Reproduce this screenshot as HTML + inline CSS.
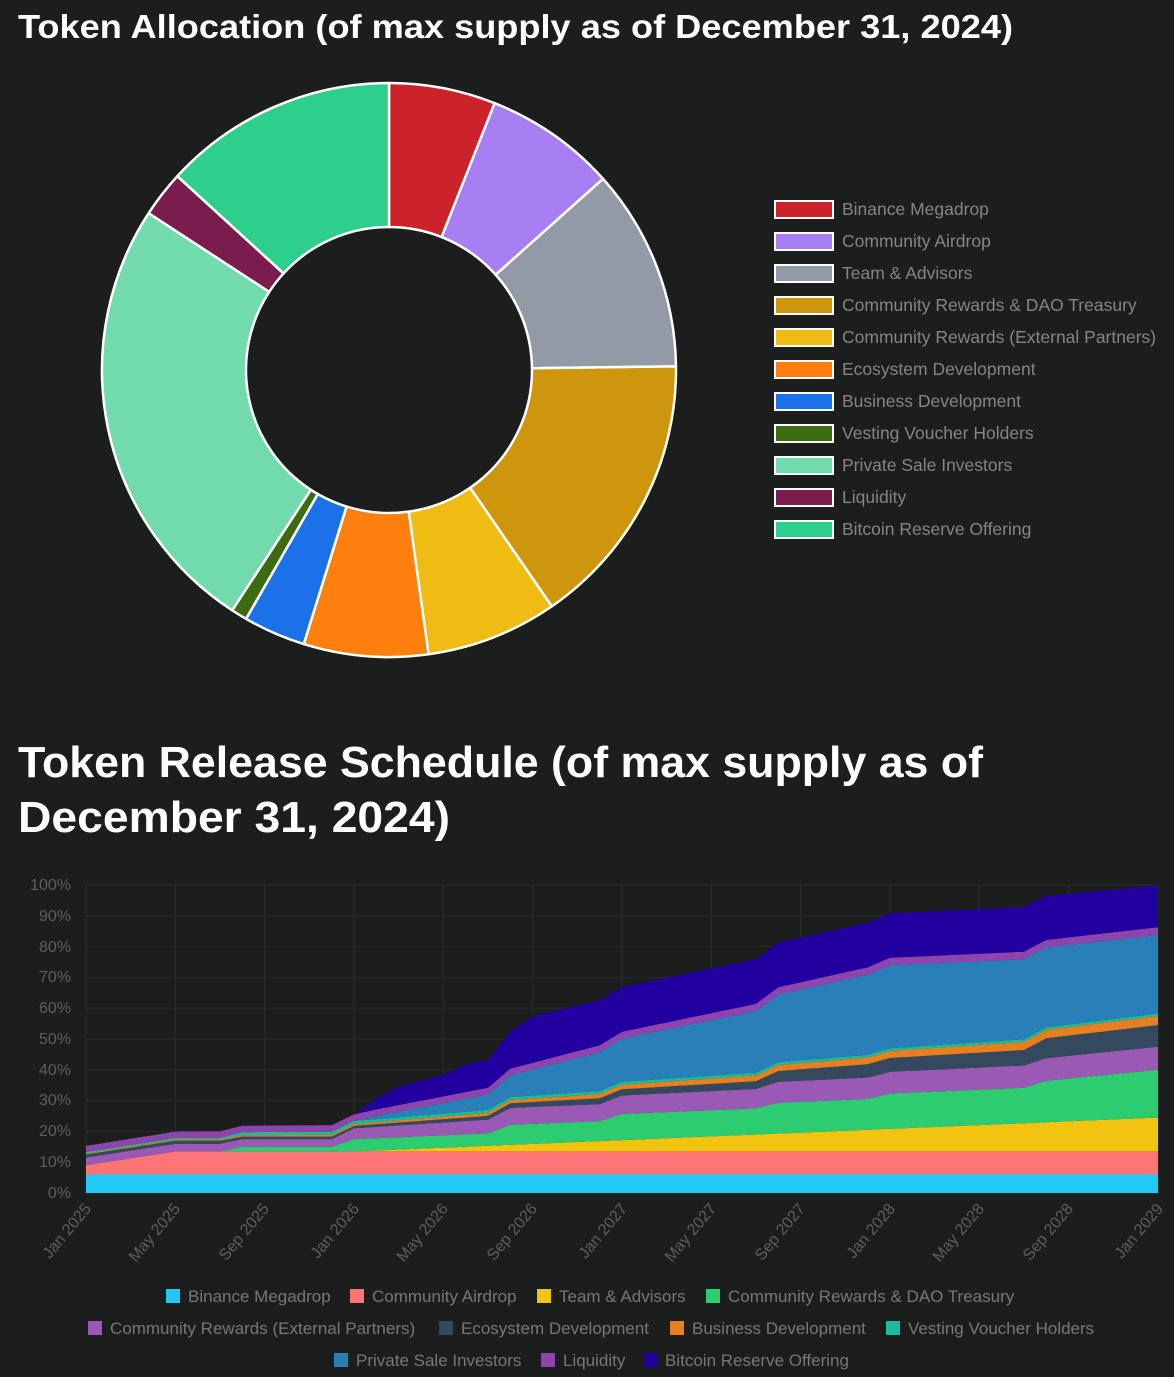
<!DOCTYPE html>
<html><head><meta charset="utf-8"><style>
html,body{margin:0;padding:0;background:#1c1d1d;width:1174px;height:1377px;overflow:hidden}
svg{display:block}
text{font-family:"Liberation Sans",Arial,sans-serif}
</style></head><body>
<svg id="s" width="1174" height="1377" viewBox="0 0 1174 1377">
<rect width="1174" height="1377" fill="#1c1d1d"/>
<text x="18" y="38" fill="#fff" font-size="33" font-weight="bold" textLength="995" lengthAdjust="spacingAndGlyphs">Token Allocation (of max supply as of December 31, 2024)</text>
<text x="18" y="777" fill="#fff" font-size="44" font-weight="bold" textLength="965" lengthAdjust="spacingAndGlyphs">Token Release Schedule (of max supply as of</text>
<text x="18" y="832" fill="#fff" font-size="44" font-weight="bold" textLength="432" lengthAdjust="spacingAndGlyphs">December 31, 2024)</text>
<g id="donut"></g>
<g id="leg1" font-size="17.5" fill="#858585">
<rect x="775" y="201" width="58" height="17" fill="#cc2229" stroke="#fff" stroke-width="2"/><text x="842" y="215">Binance Megadrop</text>
<rect x="775" y="233" width="58" height="17" fill="#a77ff2" stroke="#fff" stroke-width="2"/><text x="842" y="247">Community Airdrop</text>
<rect x="775" y="265" width="58" height="17" fill="#929aa5" stroke="#fff" stroke-width="2"/><text x="842" y="279">Team &amp; Advisors</text>
<rect x="775" y="297" width="58" height="17" fill="#cd960c" stroke="#fff" stroke-width="2"/><text x="842" y="311">Community Rewards &amp; DAO Treasury</text>
<rect x="775" y="329" width="58" height="17" fill="#f0bb12" stroke="#fff" stroke-width="2"/><text x="842" y="343">Community Rewards (External Partners)</text>
<rect x="775" y="361" width="58" height="17" fill="#fd800f" stroke="#fff" stroke-width="2"/><text x="842" y="375">Ecosystem Development</text>
<rect x="775" y="393" width="58" height="17" fill="#1b72e8" stroke="#fff" stroke-width="2"/><text x="842" y="407">Business Development</text>
<rect x="775" y="425" width="58" height="17" fill="#3d6b11" stroke="#fff" stroke-width="2"/><text x="842" y="439">Vesting Voucher Holders</text>
<rect x="775" y="457" width="58" height="17" fill="#72dbad" stroke="#fff" stroke-width="2"/><text x="842" y="471">Private Sale Investors</text>
<rect x="775" y="489" width="58" height="17" fill="#7a1d4e" stroke="#fff" stroke-width="2"/><text x="842" y="503">Liquidity</text>
<rect x="775" y="521" width="58" height="17" fill="#2ecf8d" stroke="#fff" stroke-width="2"/><text x="842" y="535">Bitcoin Reserve Offering</text>
</g>
<g id="grid" stroke="#2a2b2b" stroke-width="1"></g>
<g id="areas"></g>
<g font-size="16" fill="#5e5e5e" text-anchor="end">
<text x="71" y="890">100%</text><text x="71" y="921">90%</text><text x="71" y="952">80%</text><text x="71" y="982">70%</text><text x="71" y="1013">60%</text><text x="71" y="1044">50%</text><text x="71" y="1075">40%</text><text x="71" y="1105">30%</text><text x="71" y="1136">20%</text><text x="71" y="1167">10%</text><text x="71" y="1198">0%</text>
</g>
<g font-size="16" fill="#5e5e5e" text-anchor="end">
<text transform="translate(92,1209) rotate(-50)">Jan 2025</text>
<text transform="translate(181,1209) rotate(-50)">May 2025</text>
<text transform="translate(270,1209) rotate(-50)">Sep 2025</text>
<text transform="translate(360,1209) rotate(-50)">Jan 2026</text>
<text transform="translate(449,1209) rotate(-50)">May 2026</text>
<text transform="translate(538,1209) rotate(-50)">Sep 2026</text>
<text transform="translate(628,1209) rotate(-50)">Jan 2027</text>
<text transform="translate(717,1209) rotate(-50)">May 2027</text>
<text transform="translate(806,1209) rotate(-50)">Sep 2027</text>
<text transform="translate(896,1209) rotate(-50)">Jan 2028</text>
<text transform="translate(985,1209) rotate(-50)">May 2028</text>
<text transform="translate(1074,1209) rotate(-50)">Sep 2028</text>
<text transform="translate(1164,1209) rotate(-50)">Jan 2029</text>
</g>
<g font-size="17" fill="#777">
<rect x="166" y="1289" width="14" height="14" fill="#22c9f5"/><text x="188" y="1302">Binance Megadrop</text>
<rect x="350" y="1289" width="14" height="14" fill="#ff7474"/><text x="372" y="1302">Community Airdrop</text>
<rect x="537" y="1289" width="14" height="14" fill="#f1c40f"/><text x="559" y="1302">Team &amp; Advisors</text>
<rect x="706" y="1289" width="14" height="14" fill="#2ecc71"/><text x="728" y="1302">Community Rewards &amp; DAO Treasury</text>
<rect x="88" y="1321" width="14" height="14" fill="#9b59b6"/><text x="110" y="1334">Community Rewards (External Partners)</text>
<rect x="439" y="1321" width="14" height="14" fill="#34495e"/><text x="461" y="1334">Ecosystem Development</text>
<rect x="670" y="1321" width="14" height="14" fill="#e67e22"/><text x="692" y="1334">Business Development</text>
<rect x="886" y="1321" width="14" height="14" fill="#1abc9c"/><text x="908" y="1334">Vesting Voucher Holders</text>
<rect x="334" y="1353" width="14" height="14" fill="#2980b9"/><text x="356" y="1366">Private Sale Investors</text>
<rect x="541" y="1353" width="14" height="14" fill="#8e44ad"/><text x="563" y="1366">Liquidity</text>
<rect x="643" y="1353" width="14" height="14" fill="#2200a0"/><text x="665" y="1366">Bitcoin Reserve Offering</text>
</g>
</svg>
<script>
var NS="http://www.w3.org/2000/svg";
function el(t,a,p){var e=document.createElementNS(NS,t);for(var k in a)e.setAttribute(k,a[k]);p.appendChild(e);return e;}
var cx=389,cy=370,R=287,r=143;
var vals=[6,7.4,11.4,15.6,7.4,7,3.5,0.9,25,2.6,13.2];
var cols=["#cc2229","#a77ff2","#929aa5","#cd960c","#f0bb12","#fd800f","#1b72e8","#3d6b11","#72dbad","#7a1d4e","#2ecf8d"];
var tot=vals.reduce(function(a,b){return a+b},0),a0=0,dg=document.getElementById("donut");
vals.forEach(function(v,i){var a1=a0+v/tot*2*Math.PI;
function pt(rr,a){return [cx+rr*Math.sin(a),cy-rr*Math.cos(a)];}
var p1=pt(R,a0),p2=pt(R,a1),p3=pt(r,a1),p4=pt(r,a0),l=(a1-a0)>Math.PI?1:0;
el("path",{d:"M"+p1+"A"+R+","+R+" 0 "+l+" 1 "+p2+"L"+p3+"A"+r+","+r+" 0 "+l+" 0 "+p4+"Z",fill:cols[i],stroke:"#fff","stroke-width":2.5,"stroke-linejoin":"round"},dg);a0=a1;});
var X0=86,X1=1158,Y0=1193,Y1=885,g=document.getElementById("grid");
for(var i=0;i<=10;i++){var y=Y0+(Y1-Y0)*i/10;el("line",{x1:X0,x2:X1,y1:y,y2:y},g);}
for(var i=0;i<=12;i++){var x=X0+(X1-X0)*i/12;el("line",{x1:x,x2:x,y1:Y1,y2:Y0},g);}
var S=[
["#22c9f5",[[0,6],[48,6]]],
["#ff7474",[[0,3],[4,7.5],[48,7.5]]],
["#f1c40f",[[0,0],[12,0],[48,11]]],
["#2ecc71",[[0,0],[6,0],[7,1.5],[11,1.5],[12,4],[18,4],[19,6.5],[23,6.5],[24,8.5],[30,8.5],[31,10],[35,10],[36,11.5],[42,11.5],[43,13.5],[48,15.5]]],
["#9b59b6",[[0,2.5],[4,2.5],[6,2.5],[7,2.5],[11,2.5],[12,3.5],[18,4.5],[19,5.5],[23,5.5],[24,6],[30,6.3],[31,6.8],[48,7.5]]],
["#34495e",[[0,1],[6,1],[7,0.8],[12,0.8],[18,1.2],[19,1.5],[24,2],[30,2.5],[31,3.5],[36,4.5],[42,5],[43,6.5],[48,7]]],
["#e67e22",[[0,0.3],[12,0.6],[18,1],[24,1.5],[36,2.3],[48,3]]],
["#1abc9c",[[0,0.5],[6,0.5],[7,1],[12,1],[48,0.8]]],
["#2980b9",[[0,0],[12,0],[13,1],[18,5],[19,7],[24,14],[30,20],[31,22],[36,27],[42,26],[48,25.5]]],
["#8e44ad",[[0,2],[48,2.5]]],
["#2200a0",[[0,0],[12,0],[13,3.5],[14,6],[16,7],[17,9],[18,9],[19,12],[20,15],[24,14.5],[30,14.5],[31,14.5],[36,14.5],[42,14.5],[48,13.5]]]
];
function val(pts,m){for(var i=0;i<pts.length-1;i++){if(m<=pts[i+1][0]){var a=pts[i],b=pts[i+1];return a[1]+(b[1]-a[1])*(m-a[0])/(b[0]-a[0]);}}return pts[pts.length-1][1];}
var N=96,base=[],ag=document.getElementById("areas");for(var k=0;k<=N;k++)base.push(0);
S.forEach(function(s){var top=[],d="";for(var k=0;k<=N;k++){top.push(Math.min(100,base[k]+val(s[1],k*48/N)));}
for(var k=0;k<=N;k++){d+=(k?"L":"M")+(X0+(X1-X0)*k/N).toFixed(1)+","+(Y0-(Y0-Y1)*top[k]/100).toFixed(1);}
for(var k=N;k>=0;k--){d+="L"+(X0+(X1-X0)*k/N).toFixed(1)+","+(Y0-(Y0-Y1)*base[k]/100).toFixed(1);}
el("path",{d:d+"Z",fill:s[0]},ag);base=top;});
</script>
</body></html>
